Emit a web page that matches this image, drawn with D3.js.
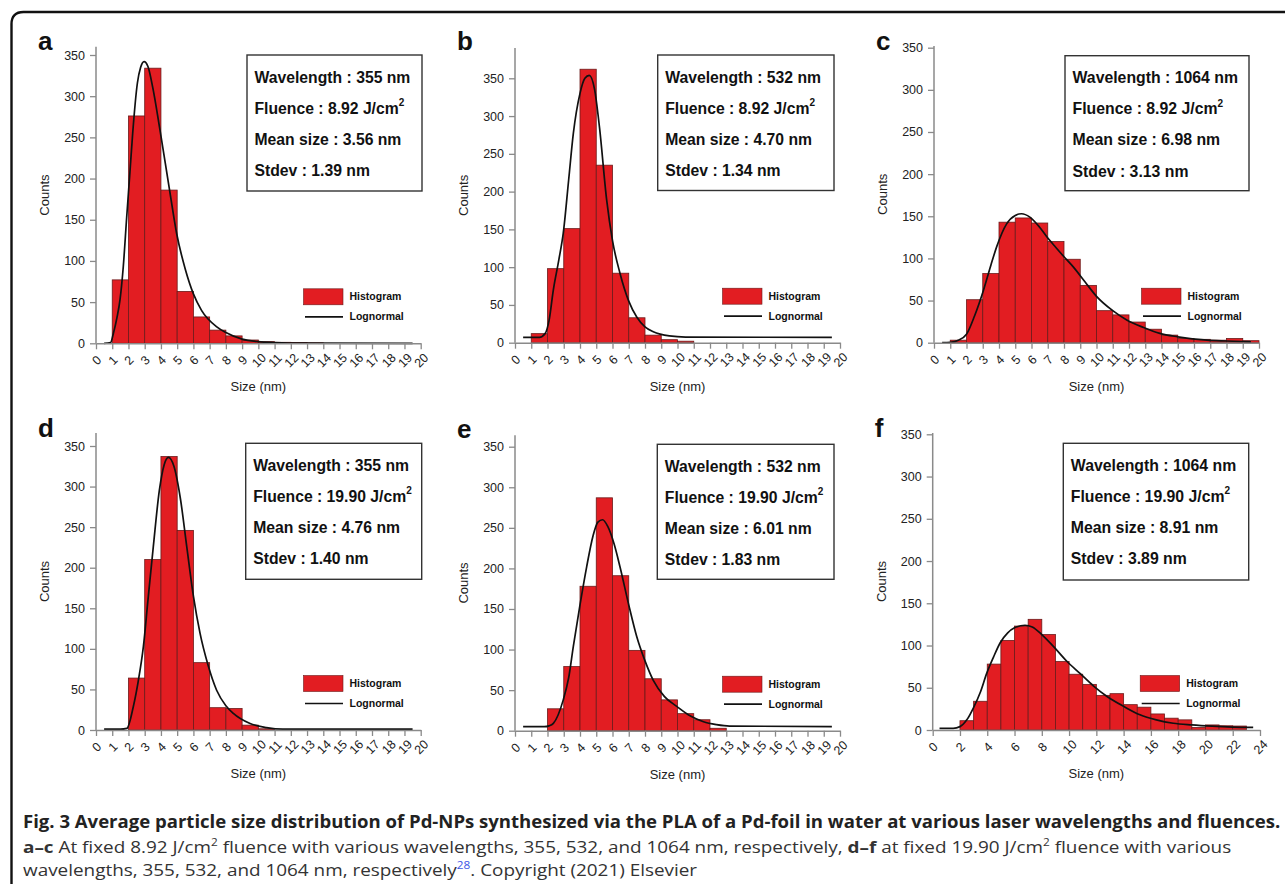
<!DOCTYPE html>
<html>
<head>
<meta charset="utf-8">
<script src="https://cdn.jsdelivr.net/npm/d3@7"></script>
<style>
  body { margin: 0; background: #fff; }
  svg { display: block; }
</style>
</head>
<body>
<div id="figure"></div>
<script>
// histogram counts, one bin per nm starting at 0
const countsA = [0, 77, 276, 334, 186, 63, 32, 16, 9, 4, 2, 1.2, 1, 0.5, 0, 0, 0, 0, 0, 0]
const countsB = [0, 12, 98, 151, 362, 235, 92, 33, 10, 4, 2, 0, 0, 0, 0, 0, 0, 0, 0, 0]
const countsC = [0, 3, 51, 82, 143, 148, 142, 120, 99, 68, 38, 33, 24.5, 16, 9, 5, 4, 3, 5, 2.4]
const countsD = [0, 0, 64, 210, 337, 246, 83, 27.5, 26.5, 6, 1.5, 0, 0, 0, 0, 0, 0, 0, 0, 0]
const countsE = [0, 0, 27, 79, 178, 287, 191, 99, 64, 38, 21, 13.5, 3, 0, 0, 0, 0, 0, 0, 0]
const countsF = [0, 0, 11, 34, 78, 106, 123, 131, 113, 81, 66, 54, 41, 43, 30, 27, 19, 14, 12, 3, 6, 5, 4.7]

// lognormal fit curves, [size, count] points
const fitA = [[0.5, 0], [0.9, 1], [1.07, 12], [1.3, 32], [1.48, 53], [1.68, 93], [1.89, 153], [2.08, 205], [2.26, 255], [2.55, 316], [2.75, 335], [2.96, 342], [3.2, 336], [3.5, 310], [3.94, 259], [4.5, 190], [4.97, 133], [5.5, 90], [6, 60], [6.5, 40], [7.44, 20], [8, 13], [9, 5], [10, 2], [11, 1], [13, 0.3], [19.5, 0]]
const fitB = [[0.5, 7], [1.5, 7], [1.85, 12], [2.1, 30], [2.36, 70], [2.7, 110], [2.97, 145], [3.3, 215], [3.59, 277], [4.0, 330], [4.3, 350], [4.57, 354], [4.9, 335], [5.2, 285], [5.64, 189], [6.0, 135], [6.46, 92], [7.0, 55], [7.49, 34], [8.0, 21], [8.51, 14.5], [9.5, 9], [10.5, 7.5], [19.5, 7]]
const fitC = [[0.5, 0], [1, 0.5], [1.5, 3], [2.0, 10], [2.5, 32], [3.04, 62], [3.5, 92], [3.86, 114], [4.47, 141], [5, 151], [5.39, 153], [5.9, 149], [6.5, 137], [6.93, 126], [7.5, 113], [8, 102], [8.57, 90], [9.3, 72], [10, 55], [11, 38], [11.86, 27], [12.9, 18], [13.9, 11], [15, 7], [16.8, 3], [18, 2], [19.5, 1]]
const fitD = [[0.5, 1], [1.5, 1], [1.9, 2], [2.3, 29], [2.6, 60], [2.92, 103], [3.2, 160], [3.53, 226], [3.9, 295], [4.2, 327], [4.46, 336], [4.8, 325], [5.2, 285], [5.59, 226], [6.0, 165], [6.41, 119], [6.9, 80], [7.43, 49], [8.0, 30], [8.46, 20.5], [9.49, 8], [10.5, 3], [11.5, 1], [19.5, 1]]
const fitE = [[0.5, 5], [1.8, 5], [2.1, 6], [2.36, 9], [2.97, 38], [3.3, 65], [3.59, 104], [4.0, 155], [4.41, 202], [4.8, 240], [5.1, 257], [5.39, 260], [5.7, 252], [6.1, 230], [6.46, 202], [7.0, 155], [7.49, 116], [8.0, 86], [8.51, 62], [9.2, 42], [9.95, 30], [10.8, 18], [11.6, 11], [12.4, 7.5], [13.2, 5.7], [19.5, 5]]
const fitF = [[0.5, 2], [1.5, 2], [2.0, 4], [2.5, 12], [2.98, 26], [3.5, 45], [3.96, 67], [4.45, 86], [4.94, 103], [5.5, 115], [6.0, 121], [6.77, 124], [7.3, 122], [8.0, 113], [8.85, 99], [9.8, 82], [10.8, 67], [11.8, 52], [12.76, 40], [14, 28], [15.2, 18], [16.4, 12], [17.64, 8], [19, 6], [20.5, 4.5], [22, 3.5], [23.5, 3]]

// info box texts
const wavelengths = ["355", "532", "1064", "355", "532", "1064"]
const fluences = ["8.92", "8.92", "8.92", "19.90", "19.90", "19.90"]
const meanSizes = ["3.56", "4.70", "6.98", "4.76", "6.01", "8.91"]
const stdevs = ["1.39", "1.34", "3.13", "1.40", "1.83", "3.89"]
const panelLetters = ["a", "b", "c", "d", "e", "f"]

const yTicks = [0, 50, 100, 150, 200, 250, 300, 350]
const xTicks20 = d3.range(0, 21, 1)
const xTicks24 = d3.range(0, 25, 2)

const barColor = "#e21d22"
const axisColor = "#8a8a8a"
const font = "'Liberation Sans', Arial, sans-serif"

var width = 1285
var height = 884

var svg = d3.select("#figure")
    .append("svg")
    .attr("width", width)
    .attr("height", height)

// rounded frame, open to the right and bottom
svg.append("path")
    .attr("d", "M11.5,884 L11.5,24 Q11.5,12 23.5,12 L1290,12")
    .attr("fill", "none")
    .attr("stroke", "#111")
    .attr("stroke-width", 2.4)

// panel geometry: axis left/right x, y of zero, y of 350, top of axis (counts), box
var layout = [
    { left: 96, right: 420.7, y0: 343.3, y350: 55, yMax: 360, xMax: 20, box: [247, 55, 175, 136] },
    { left: 515, right: 840, y0: 342.7, y350: 78.3, yMax: 390, xMax: 20, box: [657.7, 55, 176.3, 135.5] },
    { left: 934, right: 1259, y0: 342.7, y350: 47.7, yMax: 352, xMax: 20, box: [1065, 55.7, 184, 135] },
    { left: 96, right: 420.7, y0: 730, y350: 446, yMax: 366, xMax: 20, box: [245.7, 443.3, 176, 136] },
    { left: 515, right: 840, y0: 730.7, y350: 446.7, yMax: 364, xMax: 20, box: [657.3, 444.3, 176.7, 135] },
    { left: 932.7, right: 1260, y0: 730, y350: 434.3, yMax: 351.5, xMax: 24, box: [1063.3, 443.3, 185.4, 136.7] }
]

var allCounts = [countsA, countsB, countsC, countsD, countsE, countsF]
var allFits = [fitA, fitB, fitC, fitD, fitE, fitF]

function renderPanel(i) {
    let L = layout[i]
    let counts = allCounts[i]
    let fit = allFits[i]

    let x = d3.scaleLinear().domain([0, L.xMax]).range([L.left, L.right])
    let k = (L.y0 - L.y350) / 350
    let y = d3.scaleLinear().domain([0, L.yMax]).range([L.y0, L.y0 - L.yMax * k])

    let g = svg.append("g")

    // bars
    g.selectAll("rect.bar")
        .data(counts.map((c, j) => ({ x0: j, x1: j + 1, c: c })).filter(d => d.c > 0))
        .enter()
        .append("rect")
        .attr("class", "bar")
        .attr("x", d => x(d.x0))
        .attr("width", d => x(d.x1) - x(d.x0))
        .attr("y", d => y(d.c))
        .attr("height", d => y(0) - y(d.c))
        .attr("fill", barColor)
        .attr("stroke", "#6b1b1b")
        .attr("stroke-width", 0.8)

    // fit curve
    let line = d3.line()
        .x(d => x(d[0]))
        .y(d => y(d[1]))
        .curve(d3.curveMonotoneX)
    g.append("path")
        .datum(fit)
        .attr("d", line)
        .attr("fill", "none")
        .attr("stroke", "#111")
        .attr("stroke-width", 1.7)

    // y axis
    let yAxis = g.append("g")
        .attr("transform", "translate(" + L.left + ",0)")
        .call(d3.axisLeft(y).tickValues(yTicks).tickSize(6).tickPadding(5))
    yAxis.select(".domain").attr("stroke", axisColor).attr("stroke-width", 1.5)
        .attr("d", "M0," + y(L.yMax) + "V" + y(0))
    yAxis.selectAll(".tick line").attr("stroke", axisColor).attr("stroke-width", 1.3)
    yAxis.selectAll(".tick text")
        .style("font-family", font).style("font-size", "12.5px").attr("fill", "#222")

    // x axis with rotated labels
    let xAxis = g.append("g")
        .attr("transform", "translate(0," + L.y0 + ")")
        .call(d3.axisBottom(x).tickValues(L.xMax == 24 ? xTicks24 : xTicks20).tickSize(6).tickSizeOuter(0))
    xAxis.select(".domain").attr("stroke", axisColor).attr("stroke-width", 1.5)
    xAxis.selectAll(".tick line").attr("stroke", axisColor).attr("stroke-width", 1.3)
    xAxis.selectAll(".tick text")
        .style("font-family", font).style("font-size", "12.5px").attr("fill", "#222")
        .attr("y", 0).attr("dy", "0.35em")
        .attr("transform", "translate(0,17) rotate(-45)")
        .style("text-anchor", "middle")

    // axis titles
    g.append("text")
        .text("Counts")
        .attr("transform", "translate(" + (L.left - 47) + "," + ((L.y0 + y(L.yMax)) / 2) + ") rotate(-90)")
        .style("text-anchor", "middle")
        .style("font-family", font).style("font-size", "13px").attr("fill", "#222")
    g.append("text")
        .text("Size (nm)")
        .attr("x", (L.left + L.right) / 2)
        .attr("y", L.y0 + 48)
        .style("text-anchor", "middle")
        .style("font-family", font).style("font-size", "13px").attr("fill", "#222")

    // panel letter
    g.append("text")
        .text(panelLetters[i])
        .attr("x", L.left - 58)
        .attr("y", L.y0 - 293)
        .style("font-family", font).style("font-size", "26px").style("font-weight", "bold").attr("fill", "#111")

    // info box
    let b = L.box
    g.append("rect")
        .attr("x", b[0]).attr("y", b[1]).attr("width", b[2]).attr("height", b[3])
        .attr("fill", "#fff").attr("stroke", "#333").attr("stroke-width", 1.4)
    let lines = [
        ["Wavelength : " + wavelengths[i] + " nm"],
        ["Fluence : " + fluences[i] + " J/cm", "2"],
        ["Mean size : " + meanSizes[i] + " nm"],
        ["Stdev : " + stdevs[i] + " nm"]
    ]
    let offsets = [27.5, 58.5, 89.5, 121]
    // first line width in the reference decides the horizontal squeeze
    let target = wavelengths[i].length == 4 ? 165.5 : 156
    let sx = 1
    for (let j = 0; j < lines.length; j++) {
        let t = g.append("text")
            .style("font-family", font).style("font-size", "16.5px").style("font-weight", "bold").attr("fill", "#111")
        t.append("tspan").text(lines[j][0])
        if (lines[j][1]) {
            t.append("tspan").text(lines[j][1]).attr("dy", -7.5).style("font-size", "10.5px")
        }
        if (j == 0) sx = target / t.node().getComputedTextLength()
        t.attr("transform", "translate(" + (b[0] + 7.5) + "," + (b[1] + offsets[j]) + ") scale(" + sx + ",1)")
    }

    // legend
    let lx = L.left + 207.5
    let ly = L.y0 - 54.5
    g.append("rect")
        .attr("x", lx).attr("y", ly).attr("width", 39.5).attr("height", 16)
        .attr("fill", barColor).attr("stroke", "#6b1b1b").attr("stroke-width", 0.6)
    g.append("line")
        .attr("x1", lx + 1.5).attr("x2", lx + 39.5).attr("y1", ly + 28).attr("y2", ly + 28)
        .attr("stroke", "#111").attr("stroke-width", 1.7)
    g.append("text").text("Histogram")
        .attr("x", lx + 46).attr("y", ly + 11.5)
        .style("font-family", font).style("font-size", "10.5px").style("font-weight", "bold").attr("fill", "#111")
    g.append("text").text("Lognormal")
        .attr("x", lx + 46).attr("y", ly + 31.5)
        .style("font-family", font).style("font-size", "10.5px").style("font-weight", "bold").attr("fill", "#111")
}

for (let i = 0; i < layout.length; i++) {
    renderPanel(i)
}

// caption, squeezed horizontally to mimic the condensed typeface
function fitWidth(textSel, x, yPos, target) {
    let w = textSel.node().getComputedTextLength()
    let s = target ? target / w : 1
    textSel.attr("transform", "translate(" + x + "," + yPos + ") scale(" + s + ",1)")
    return s
}

var capFont = "'Open Sans', 'Noto Sans', sans-serif"

var cap1 = svg.append("text")
    .style("font-family", capFont).style("font-size", "17px").style("font-weight", "bold").attr("fill", "#222")
    .text("Fig. 3 Average particle size distribution of Pd-NPs synthesized via the PLA of a Pd-foil in water at various laser wavelengths and fluences.")
fitWidth(cap1, 23, 828, 1258)

var cap2 = svg.append("text")
    .style("font-family", capFont).style("font-size", "16px").attr("fill", "#333")
cap2.append("tspan").text("a–c").style("font-weight", "bold")
cap2.append("tspan").text(" At fixed 8.92 J/cm")
cap2.append("tspan").text("2").attr("dy", -7).style("font-size", "10px")
cap2.append("tspan").text(" fluence with various wavelengths, 355, 532, and 1064 nm, respectively, ").attr("dy", 7)
cap2.append("tspan").text("d–f").style("font-weight", "bold")
cap2.append("tspan").text(" at fixed 19.90 J/cm")
cap2.append("tspan").text("2").attr("dy", -7).style("font-size", "10px")
cap2.append("tspan").text(" fluence with various").attr("dy", 7)
var s2 = fitWidth(cap2, 23, 853, 1209)

var cap3 = svg.append("text")
    .style("font-family", capFont).style("font-size", "16px").attr("fill", "#333")
cap3.append("tspan").text("wavelengths, 355, 532, and 1064 nm, respectively")
cap3.append("tspan").text("28").attr("dy", -7).style("font-size", "10px").attr("fill", "#3b55e6")
cap3.append("tspan").text(". Copyright (2021) Elsevier").attr("dy", 7)
cap3.attr("transform", "translate(23,876) scale(" + s2 + ",1)")
</script>
</body>
</html>
